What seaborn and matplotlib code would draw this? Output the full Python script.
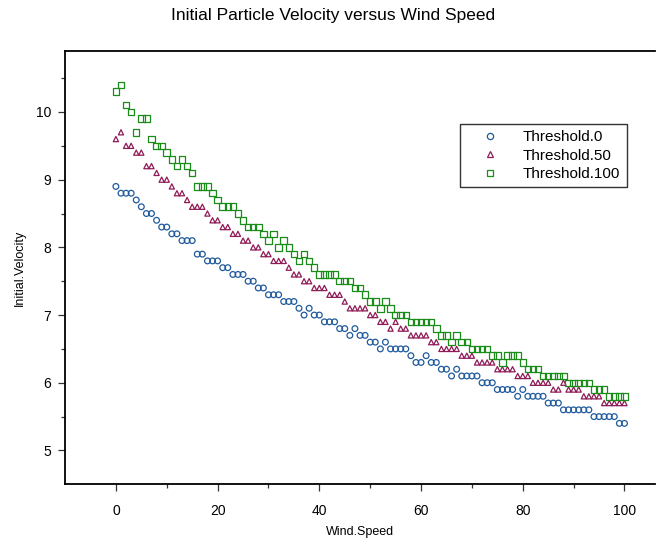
import numpy as np
import pandas as pd
import matplotlib
matplotlib.use("Agg")
import matplotlib.pyplot as plt
from matplotlib.lines import Line2D
import seaborn as sns

wind_speed = list(range(0, 101))

threshold_0 = [
    8.9, 8.8, 8.8, 8.8, 8.7, 8.6, 8.5, 8.5, 8.4, 8.3,
    8.3, 8.2, 8.2, 8.1, 8.1, 8.1, 7.9, 7.9, 7.8, 7.8,
    7.8, 7.7, 7.7, 7.6, 7.6, 7.6, 7.5, 7.5, 7.4, 7.4,
    7.3, 7.3, 7.3, 7.2, 7.2, 7.2, 7.1, 7.0, 7.1, 7.0,
    7.0, 6.9, 6.9, 6.9, 6.8, 6.8, 6.7, 6.8, 6.7, 6.7,
    6.6, 6.6, 6.5, 6.6, 6.5, 6.5, 6.5, 6.5, 6.4, 6.3,
    6.3, 6.4, 6.3, 6.3, 6.2, 6.2, 6.1, 6.2, 6.1, 6.1,
    6.1, 6.1, 6.0, 6.0, 6.0, 5.9, 5.9, 5.9, 5.9, 5.8,
    5.9, 5.8, 5.8, 5.8, 5.8, 5.7, 5.7, 5.7, 5.6, 5.6,
    5.6, 5.6, 5.6, 5.6, 5.5, 5.5, 5.5, 5.5, 5.5, 5.4,
    5.4,
]

threshold_50 = [
    9.6, 9.7, 9.5, 9.5, 9.4, 9.4, 9.2, 9.2, 9.1, 9.0,
    9.0, 8.9, 8.8, 8.8, 8.7, 8.6, 8.6, 8.6, 8.5, 8.4,
    8.4, 8.3, 8.3, 8.2, 8.2, 8.1, 8.1, 8.0, 8.0, 7.9,
    7.9, 7.8, 7.8, 7.8, 7.7, 7.6, 7.6, 7.5, 7.5, 7.4,
    7.4, 7.4, 7.3, 7.3, 7.3, 7.2, 7.1, 7.1, 7.1, 7.1,
    7.0, 7.0, 6.9, 6.9, 6.8, 6.9, 6.8, 6.8, 6.7, 6.7,
    6.7, 6.7, 6.6, 6.6, 6.5, 6.5, 6.5, 6.5, 6.4, 6.4,
    6.4, 6.3, 6.3, 6.3, 6.3, 6.2, 6.2, 6.2, 6.2, 6.1,
    6.1, 6.1, 6.0, 6.0, 6.0, 6.0, 5.9, 5.9, 6.0, 5.9,
    5.9, 5.9, 5.8, 5.8, 5.8, 5.8, 5.7, 5.7, 5.7, 5.7,
    5.7,
]

threshold_100 = [
    10.3, 10.4, 10.1, 10.0, 9.7, 9.9, 9.9, 9.6, 9.5, 9.5,
    9.4, 9.3, 9.2, 9.3, 9.2, 9.1, 8.9, 8.9, 8.9, 8.8,
    8.7, 8.6, 8.6, 8.6, 8.5, 8.4, 8.3, 8.3, 8.3, 8.2,
    8.1, 8.2, 8.0, 8.1, 8.0, 7.9, 7.8, 7.9, 7.8, 7.7,
    7.6, 7.6, 7.6, 7.6, 7.5, 7.5, 7.5, 7.4, 7.4, 7.3,
    7.2, 7.2, 7.1, 7.2, 7.1, 7.0, 7.0, 7.0, 6.9, 6.9,
    6.9, 6.9, 6.9, 6.8, 6.7, 6.7, 6.6, 6.7, 6.6, 6.6,
    6.5, 6.5, 6.5, 6.5, 6.4, 6.4, 6.3, 6.4, 6.4, 6.4,
    6.3, 6.2, 6.2, 6.2, 6.1, 6.1, 6.1, 6.1, 6.1, 6.0,
    6.0, 6.0, 6.0, 6.0, 5.9, 5.9, 5.9, 5.8, 5.8, 5.8,
    5.8,
]

series_names = ["Threshold.0", "Threshold.50", "Threshold.100"]

sns.set_style("ticks")
plt.rcParams["font.family"] = ["Liberation Sans", "DejaVu Sans"]
plt.rcParams["text.color"] = "black"
plt.rcParams["axes.labelcolor"] = "black"
plt.rcParams["xtick.color"] = "black"
plt.rcParams["ytick.color"] = "black"

colors = ["#1f5a9c", "#8e1a56", "#1a8c1a"]
markers = ["o", "^", "s"]
sizes = [17, 14, 22]

df = pd.DataFrame({
    "Wind.Speed": wind_speed * 3,
    "Initial.Velocity": threshold_0 + threshold_50 + threshold_100,
    "series": np.repeat(series_names, len(wind_speed)),
})

fig = plt.figure(figsize=(6.67, 5.46), dpi=100)
ax = fig.add_axes([0.0975, 0.113, 0.8845, 0.7935])

for name, c, m, sz in zip(series_names, colors, markers, sizes):
    sub = df[df["series"] == name]
    sns.scatterplot(data=sub, x="Wind.Speed", y="Initial.Velocity",
                    marker=m, s=sz, color=c, linewidth=0.9, ax=ax, legend=False)
    pts = ax.collections[-1]
    pts.set_facecolors("none")
    pts.set_edgecolors(c)

ax.set_xlim(-10, 106)
ax.set_ylim(4.5, 10.9)
ax.set_xticks([0, 20, 40, 60, 80, 100])
ax.set_xticks([10, 30, 50, 70, 90], minor=True)
ax.set_yticks([5, 6, 7, 8, 9, 10])
ax.set_yticks([5.5, 6.5, 7.5, 8.5, 9.5, 10.5], minor=True)
ax.tick_params(axis="both", which="major", length=5, width=0.9, labelsize=10,
               color="#333333")
ax.tick_params(axis="x", which="major", pad=9)
ax.tick_params(axis="y", which="major", pad=5)
ax.tick_params(axis="both", which="minor", length=3, width=0.9, color="#333333")

for side in ["left", "top", "bottom"]:
    ax.spines[side].set_linewidth(1.3)
    ax.spines[side].set_color("black")
ax.spines["right"].set_visible(False)

ax.set_xlabel("Wind.Speed", fontsize=9, labelpad=6)
ax.set_ylabel("Initial.Velocity", fontsize=9, labelpad=7)
fig.suptitle("Initial Particle Velocity versus Wind Speed", fontsize=12.5, y=0.985)

handles = [Line2D([], [], linestyle="none", marker=m, markersize=4.5,
                  markerfacecolor="none", markeredgecolor=c, markeredgewidth=0.9)
           for c, m in zip(colors, markers)]
leg = ax.legend(handles, series_names, loc="upper left",
                bbox_to_anchor=(0.669, 0.8315), frameon=True, fancybox=False,
                fontsize=11, handlelength=3.1, handletextpad=0.65,
                borderpad=0.4, labelspacing=0.3, borderaxespad=0)
leg.get_frame().set_edgecolor("black")
leg.get_frame().set_linewidth(1.0)

fig.savefig("out.png", dpi=100)
